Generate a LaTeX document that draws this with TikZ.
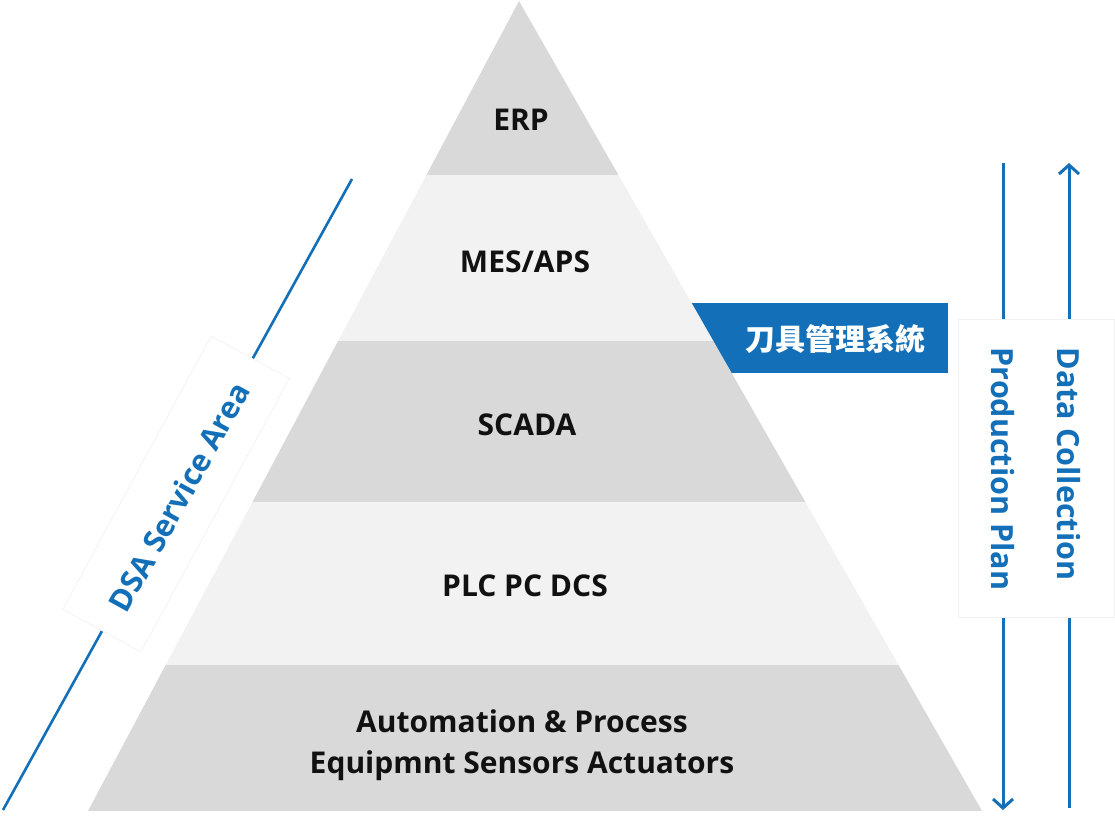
\documentclass[tikz,border=0pt]{standalone}
\usepackage{fontspec}
\setmainfont{Open Sans}
\newfontfamily\cjk{Noto Sans CJK TC}
\usetikzlibrary{arrows.meta}
\definecolor{bandA}{HTML}{D9D9D9}
\definecolor{bandB}{HTML}{F2F2F2}
\definecolor{dsablue}{HTML}{1370B8}
\definecolor{faint}{HTML}{F0F0F0}
\definecolor{txt}{HTML}{111111}
\tikzset{
  lvl/.style={font=\bfseries\fontsize{30}{41}\selectfont, text=txt, align=center, inner sep=0pt},
  bluetxt/.style={font=\bfseries\fontsize{30.5}{34}\selectfont, text=dsablue, inner sep=0pt},
  flow/.style={draw=dsablue, line width=3pt},
  tip/.style={-{Straight Barb[length=9pt,width=20pt,line width=3pt]}},
  whitebox/.style={draw=faint, fill=white, line width=0.6pt, inner sep=0pt}
}
\begin{document}
\begin{tikzpicture}[x=1pt,y=-1pt]
\useasboundingbox (0,0) rectangle (1115,817);
% tool box behind pyramid
\node[fill=dsablue, minimum width=300pt, minimum height=70pt, inner sep=0pt] (toolbox) at (798,338) {};
% pyramid
\coordinate (apex) at (519,1);
\coordinate (bl) at (88,811);
\coordinate (br) at (982,811);
\begin{scope}
\clip (apex) -- (bl) -- (br) -- cycle;
\fill[bandA] (0,0) rectangle (1115,175);
\fill[bandB] (0,175) rectangle (1115,341);
\fill[bandA] (0,341) rectangle (1115,502);
\fill[bandB] (0,502) rectangle (1115,665);
\fill[bandA] (0,665) rectangle (1115,811);
\end{scope}
\node[lvl] (erp) at (521,120) {ERP};
\node[lvl] (mes) at (525,262) {MES/APS};
\node[lvl] (scada) at (527,425) {SCADA};
\node[lvl] (plc) at (525,586) {PLC PC DCS};
\node[lvl] (auto) at (522,745) {Automation \& Process\\Equipmnt Sensors Actuators};
\node[font=\cjk\bfseries\fontsize{30}{32}\selectfont, text=white, inner sep=0pt] (tooltxt) at (835,339) {刀具管理系統};
% right flows
\coordinate (pp1) at (1003,163);
\coordinate (pp2) at (1003,810);
\coordinate (dc1) at (1069,808);
\coordinate (dc2) at (1069,163);
\draw[flow, tip] (pp1) -- (pp2);
\draw[flow, tip] (dc1) -- (dc2);
\node[whitebox, minimum width=156pt, minimum height=298pt] (flowbox) at (1036,468) {};
\node[bluetxt, rotate=-90] (pptxt) at (1003,469) {Production Plan};
\node[bluetxt, rotate=-90] (dctxt) at (1069,464) {Data Collection};
% DSA
\coordinate (d1) at (352,179);
\coordinate (d2) at (3,810);
\draw[draw=dsablue, line width=2.6pt] (d1) -- (d2);
\node[whitebox, minimum width=311pt, minimum height=89pt, rotate=61.5] (dsabox) at (176,494) {};
\node[bluetxt, rotate=61] (dsatxt) at (179,497) {DSA Service Area};
\end{tikzpicture}
\end{document}
